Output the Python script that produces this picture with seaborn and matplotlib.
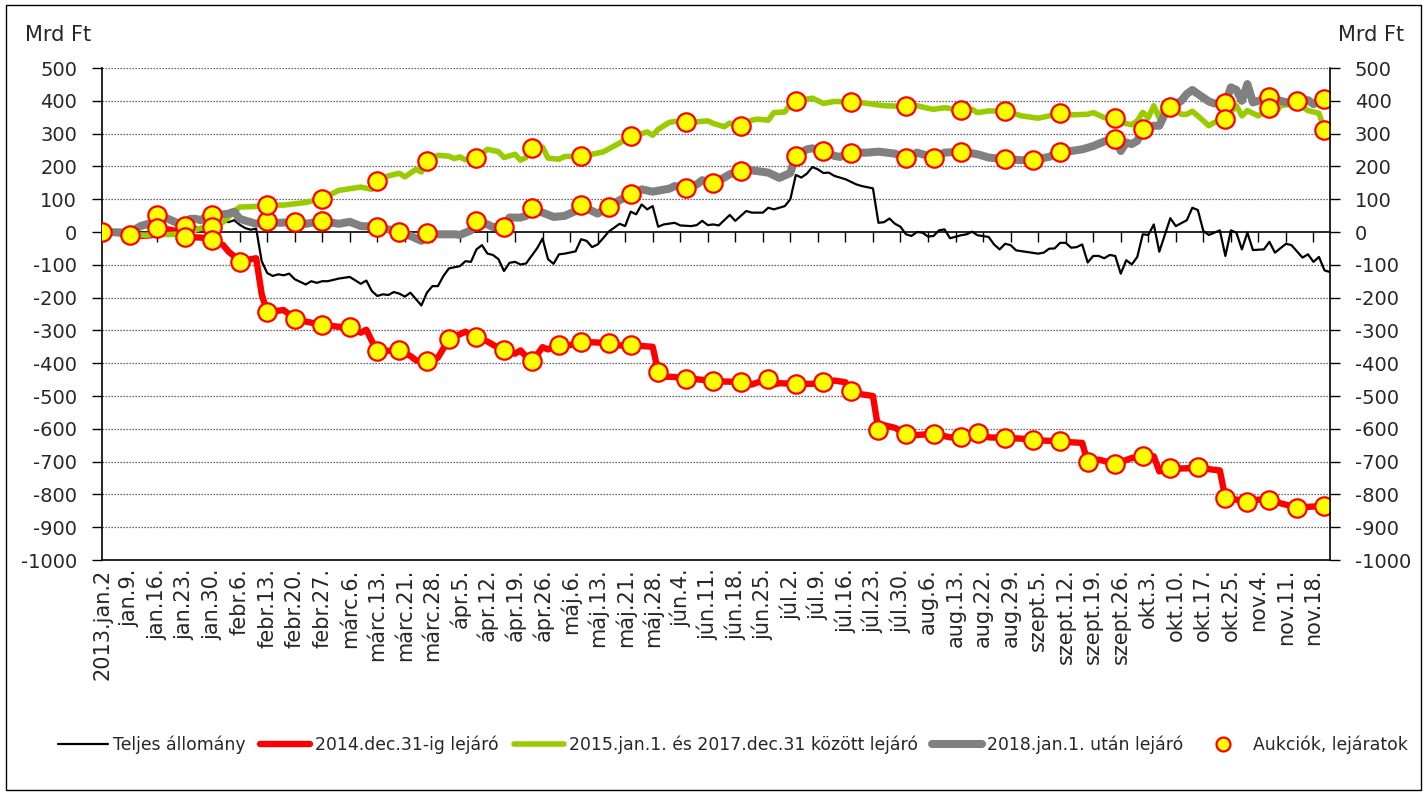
import matplotlib
matplotlib.use("Agg")
import matplotlib.pyplot as plt
from matplotlib.lines import Line2D
from matplotlib.patches import Rectangle
import numpy as np
import pandas as pd
import seaborn as sns

# Trading-day axis labels (one label every 5 trading days)
date_labels = ["2013.jan.2", "jan.9.", "jan.16.", "jan.23.", "jan.30.", "febr.6.", "febr.13.",
               "febr.20.", "febr.27.", "márc.6.", "márc.13.", "márc.21.", "márc.28.", "ápr.5.",
               "ápr.12.", "ápr.19.", "ápr.26.", "máj.6.", "máj.13.", "máj.21.", "máj.28.",
               "jún.4.", "jún.11.", "jún.18.", "jún.25.", "júl.2.", "júl.9.", "júl.16.",
               "júl.23.", "júl.30.", "aug.6.", "aug.13.", "aug.22.", "aug.29.", "szept.5.",
               "szept.12.", "szept.19.", "szept.26.", "okt.3.", "okt.10.", "okt.17.", "okt.25.",
               "nov.4.", "nov.11.", "nov.18."]
label_step = 5
last_day = 223

# Teljes állomány (change since 2 Jan, bn HUF), by trading-day index
total_day = [0, 3, 6, 9, 11, 13, 15, 16, 17, 18, 19, 21, 22, 23, 24, 25, 26, 27, 28, 29, 30, 31, 32,
             33, 34, 35, 37, 38, 39, 40, 41, 43, 45, 47, 48, 49, 50, 51, 52, 53, 54, 55, 56, 58, 59,
             60, 61, 62, 63, 65, 66, 67, 68, 69, 70, 71, 72, 73, 74, 75, 76, 77, 79, 80, 81, 82, 83,
             84, 86, 87, 88, 89, 90, 91, 92, 94, 95, 96, 97, 98, 99, 100, 101, 102, 104, 105, 107,
             108, 109, 110, 111, 112, 114, 115, 117, 118, 120, 121, 122, 124, 125, 126, 127, 128,
             129, 130, 131, 132, 133, 135, 137, 138, 140, 141, 142, 143, 144, 145, 146, 147, 148,
             149, 150, 151, 152, 153, 154, 156, 157, 158, 159, 161, 162, 163, 164, 165, 166, 168,
             170, 171, 172, 173, 174, 175, 176, 177, 178, 179, 180, 181, 182, 183, 184, 185, 186,
             187, 188, 189, 190, 191, 192, 193, 194, 195, 197, 198, 199, 200, 201, 203, 204, 205,
             206, 207, 208, 209, 211, 212, 213, 215, 216, 218, 219, 220, 221, 222, 223]
total_val = [0, -3, -5, -12, 2, 5, 12, 8, 15, 8, 20, 28, 32, 30, 36, 22, 12, 7, 10, -89, -125, -134,
             -129, -132, -127, -144, -160, -150, -155, -150, -150, -142, -137, -158, -148, -180,
             -195, -190, -192, -183, -188, -197, -185, -224, -185, -165, -165, -134, -111, -104,
             -89, -91, -53, -40, -66, -70, -83, -119, -94, -91, -99, -96, -50, -20, -83, -97, -68,
             -66, -59, -22, -27, -46, -38, -19, 1, 25, 18, 62, 54, 84, 69, 79, 16, 23, 28, 20, 18,
             21, 34, 21, 23, 20, 52, 34, 64, 59, 59, 74, 69, 79, 100, 174, 166, 178, 198, 191, 180,
             181, 171, 161, 145, 140, 133, 28, 30, 41, 25, 16, -7, -12, 0, -2, -14, -12, 5, 8, -19,
             -10, -7, 1, -10, -15, -38, -53, -36, -40, -56, -61, -66, -63, -51, -50, -33, -33, -48,
             -46, -38, -93, -73, -73, -80, -70, -73, -127, -86, -99, -76, -7, -9, 23, -60, -9, 42,
             18, 36, 74, 67, 3, -9, 5, -73, 5, -2, -53, -2, -55, -53, -30, -63, -36, -40, -78, -68,
             -91, -76, -117, -122]

# 2014.dec.31-ig lejáró
short_day = [0, 5, 7, 9, 10, 12, 14, 15, 18, 20, 22, 23, 25, 26, 28, 29, 30, 32, 33, 35, 37, 40, 43,
             45, 47, 48, 49, 50, 52, 54, 56, 57, 59, 61, 63, 66, 68, 70, 73, 75, 76, 78, 80, 81, 83,
             85, 87, 90, 92, 94, 96, 100, 101, 102, 104, 106, 108, 111, 113, 116, 118, 121, 122, 123,
             126, 129, 131, 133, 135, 136, 138, 140, 141, 142, 144, 146, 148, 151, 154, 156, 159,
             161, 164, 167, 169, 171, 174, 176, 178, 179, 181, 184, 187, 189, 191, 192, 194, 196,
             199, 203, 204, 206, 208, 210, 212, 214, 217, 220, 222, 223]
short_val = [0, -5, -12, -10, 11, 8, 1, -15, -17, -24, -40, -60, -88, -86, -80, -190, -244, -240,
             -238, -265, -273, -283, -289, -291, -307, -298, -332, -365, -362, -361, -378, -391,
             -399, -383, -327, -304, -322, -334, -363, -371, -361, -398, -351, -358, -345, -345,
             -335, -337, -338, -346, -345, -350, -426, -441, -442, -449, -449, -454, -456, -457,
             -465, -447, -465, -461, -463, -463, -458, -453, -458, -485, -495, -500, -604, -589,
             -597, -615, -619, -615, -626, -624, -612, -626, -628, -630, -635, -636, -638, -641,
             -643, -702, -694, -707, -689, -684, -684, -730, -719, -721, -719, -727, -811, -816,
             -823, -816, -816, -827, -840, -837, -836, -836]

# 2015.jan.1. és 2017.dec.31 között lejáró
mid_day = [0, 5, 8, 10, 12, 15, 18, 19, 22, 24, 25, 28, 30, 33, 35, 37, 40, 43, 45, 47, 49, 50, 52,
           54, 55, 57, 58, 59, 61, 63, 64, 65, 66, 68, 70, 72, 73, 75, 76, 77, 78, 80, 81, 83, 84,
           87, 89, 91, 93, 95, 96, 98, 99, 100, 101, 103, 104, 106, 108, 110, 111, 113, 114, 116,
           118, 119, 121, 122, 124, 125, 126, 129, 131, 133, 136, 139, 142, 146, 148, 150, 151,
           153, 156, 158, 159, 161, 164, 167, 170, 172, 174, 176, 179, 180, 182, 184, 185, 187,
           188, 189, 190, 191, 192, 193, 194, 196, 197, 198, 199, 201, 202, 204, 206, 207, 208,
           210, 212, 213, 214, 216, 217, 219, 221, 222, 223]
mid_val = [0, -7, -10, -5, -8, -5, 12, 15, 30, 62, 76, 78, 82, 82, 86, 90, 102, 127, 132, 137, 130,
           156, 171, 179, 168, 191, 183, 217, 234, 231, 224, 229, 220, 227, 252, 245, 227, 237,
           219, 227, 255, 259, 225, 222, 230, 232, 237, 244, 262, 281, 292, 300, 305, 295, 313,
           334, 337, 333, 336, 339, 331, 321, 332, 322, 341, 344, 341, 364, 366, 390, 400, 408,
           392, 398, 397, 392, 385, 383, 385, 377, 374, 379, 371, 374, 364, 369, 369, 354, 347,
           354, 363, 357, 359, 364, 349, 347, 334, 327, 339, 365, 349, 385, 347, 385, 380, 359,
           359, 368, 354, 324, 334, 346, 385, 354, 370, 354, 377, 359, 385, 390, 395, 370, 362,
           312, 310]

# 2018.jan.1. után lejáró
long_day = [0, 5, 7, 9, 10, 12, 14, 15, 16, 17, 18, 19, 20, 22, 23, 24, 25, 26, 28, 30, 32, 35, 37,
            40, 43, 45, 47, 50, 52, 54, 56, 58, 59, 61, 64, 65, 67, 68, 70, 71, 73, 74, 76, 77, 78,
            80, 82, 84, 86, 87, 89, 90, 92, 94, 96, 98, 100, 103, 104, 106, 108, 109, 111, 113, 114,
            116, 118, 121, 123, 125, 126, 128, 129, 131, 133, 134, 136, 139, 141, 144, 146, 148,
            151, 153, 156, 159, 161, 164, 167, 169, 172, 174, 176, 178, 180, 182, 184, 185, 186,
            187, 188, 189, 191, 192, 193, 194, 196, 197, 198, 199, 201, 202, 204, 205, 206, 207,
            208, 209, 211, 212, 214, 216, 217, 219, 220, 222, 223]
long_val = [0, -2, 18, 28, 50, 40, 25, 18, 40, 40, 36, 48, 51, 54, 56, 62, 40, 35, 25, 34, 28, 30,
            25, 33, 25, 31, 18, 16, 8, 0, -12, -27, -2, -7, -7, -9, 5, 34, 23, 15, 16, 44, 44, 49,
            72, 59, 46, 49, 64, 82, 64, 56, 76, 97, 115, 130, 123, 132, 140, 135, 145, 158, 148,
            166, 176, 186, 188, 181, 165, 180, 232, 252, 255, 247, 232, 229, 242, 242, 245, 239,
            225, 242, 227, 242, 245, 237, 227, 222, 219, 219, 229, 245, 247, 252, 262, 276, 285,
            247, 273, 268, 278, 314, 324, 324, 359, 382, 400, 421, 433, 421, 398, 392, 393, 441,
            433, 400, 451, 395, 405, 412, 400, 392, 398, 402, 390, 407, 405]

# Aukciók, lejáratok (auction / maturity days and the position after them)
auction_day = [0, 5, 10, 10, 15, 15, 20, 20, 20, 25, 30, 30, 30, 35, 35, 40, 40, 40, 45, 50, 50,
               50, 54, 54, 59, 59, 59, 63, 68, 68, 68, 73, 73, 78, 78, 78, 83, 87, 87, 87, 92, 92,
               96, 96, 96, 101, 106, 106, 106, 111, 111, 116, 116, 116, 121, 126, 126, 126, 131,
               131, 136, 136, 136, 141, 146, 146, 146, 151, 151, 156, 156, 156, 159, 164, 164, 164,
               169, 169, 174, 174, 174, 179, 184, 184, 184, 189, 189, 194, 194, 199, 204, 204, 204,
               208, 212, 212, 212, 217, 217, 222, 222, 222]
auction_val = [0, -8, 51, 11, 18, -15, 51, 16, -24, -91, -244, 34, 82, -264, 30, -284, 33, 102,
               -289, -363, 16, 156, -361, 0, -394, -2, 217, -326, -320, 34, 227, -361, 16, -392,
               72, 255, -344, -336, 82, 232, -339, 76, -344, 115, 292, -426, -449, 135, 334, -454,
               148, -457, 186, 322, -447, -463, 232, 400, -458, 247, -485, 242, 397, -604, -615,
               225, 383, -615, 227, -624, 245, 371, -612, -628, 222, 369, -635, 219, -638, 245, 363,
               -702, -707, 285, 349, -684, 314, -720, 381, -717, -811, 393, 346, -823, -816, 412,
               377, -840, 398, -836, 407, 312]

series_names = ["Teljes állomány", "2014.dec.31-ig lejáró",
                "2015.jan.1. és 2017.dec.31 között lejáró", "2018.jan.1. után lejáró",
                "Aukciók, lejáratok"]
y_min, y_max, y_step = -1000, 500, 100

sns.set_theme(style="white")
plt.rcParams["font.family"] = ["DejaVu Sans"]
plt.rcParams["axes.unicode_minus"] = False

W, H = 1427, 795
fig = plt.figure(figsize=(W / 100, H / 100), dpi=100)
fig.patch.set_facecolor("white")
left_px, right_px, top_px, bottom_px = 102, 1330, 68, 560
ax = fig.add_axes([left_px / W, 1 - bottom_px / H, (right_px - left_px) / W, (bottom_px - top_px) / H])
ax.set_facecolor("white")

styles = [
    (total_day, total_val, "#000000", 1.6),
    (short_day, short_val, "#FF0000", 4.6),
    (mid_day, mid_val, "#99CC00", 4.0),
    (long_day, long_val, "#808080", 5.8),
]
handles = []
for (d, v, c, lw), name in zip(styles, series_names[:4]):
    df = pd.DataFrame({"nap": d, "érték": v})
    sns.lineplot(data=df, x="nap", y="érték", ax=ax, color=c, linewidth=lw,
                 estimator=None, legend=False, solid_joinstyle="round", solid_capstyle="round")
    handles.append(Line2D([], [], color=c, linewidth=lw))

auc = pd.DataFrame({"nap": auction_day, "érték": auction_val})
sns.scatterplot(data=auc, x="nap", y="érték", ax=ax, s=175, color="#FFFF00",
                edgecolor="#FF0000", linewidth=1.6, zorder=6, legend=False)
handles.append(Line2D([], [], linestyle="none", marker="o", markersize=10,
                      markerfacecolor="#FFFF00", markeredgecolor="#FF0000", markeredgewidth=1.6))

# Axes, grid, ticks
yticks = np.arange(y_min, y_max + 1, y_step)
ax.set_xlim(0, last_day)
ax.set_ylim(y_min, y_max)
ax.set_yticks(yticks)
ax.set_yticklabels([str(t) for t in yticks])
ax.set_xlabel("")
ax.set_ylabel("")
ax.grid(False)
for t in yticks[1:]:
    if t != 0:
        ax.axhline(t, color="#3a3a3a", linewidth=0.9, linestyle=(0, (1, 1.4)), zorder=0)

tick_pos = np.arange(len(date_labels)) * label_step
ax.set_xticks(tick_pos)
ax.set_xticklabels(date_labels, rotation=90, ha="center", va="top", fontsize=15)
ax.tick_params(axis="x", length=0, pad=6)
ax.tick_params(axis="y", direction="out", length=7, width=1, color="black", labelsize=14, pad=11,
               left=True)
for side in ["top", "right"]:
    ax.spines[side].set_visible(False)
for side in ["left", "bottom"]:
    ax.spines[side].set_visible(True)
    ax.spines[side].set_color("black")
    ax.spines[side].set_linewidth(1.2)

# Category axis drawn through zero
zero_frac = (0 - y_min) / (y_max - y_min)
zax = ax.secondary_xaxis(zero_frac)
zax.set_xticks(tick_pos)
zax.xaxis.set_ticks_position("bottom")
zax.tick_params(axis="x", direction="out", length=7, width=1, color="black",
                labelbottom=False, labeltop=False, bottom=True, top=False)
for side in zax.spines:
    zax.spines[side].set_visible(False)
zax.spines["bottom"].set_visible(True)
zax.spines["bottom"].set_color("black")
zax.spines["bottom"].set_linewidth(1.2)

# Mirrored value axis on the right
ax2 = ax.twinx()
ax2.set_ylim(y_min, y_max)
ax2.set_yticks(yticks)
ax2.set_yticklabels([str(t) for t in yticks])
ax2.grid(False)
ax2.tick_params(axis="y", direction="out", length=7, width=1, color="black", labelsize=14, pad=11,
                right=True)
for side in ["top", "left", "bottom"]:
    ax2.spines[side].set_visible(False)
ax2.spines["right"].set_visible(True)
ax2.spines["right"].set_color("black")
ax2.spines["right"].set_linewidth(1.2)

fig.text(58 / W, 1 - 35 / H, "Mrd Ft", ha="center", va="center", fontsize=15)
fig.text(1371 / W, 1 - 35 / H, "Mrd Ft", ha="center", va="center", fontsize=15)

fig.legend(handles, series_names, loc="center", bbox_to_anchor=(0.5137, 1 - 745 / H), ncol=5,
           frameon=False, fontsize=12.4, handlelength=2.9, handletextpad=0.3, columnspacing=0.85)

fig.patches.append(Rectangle((6 / W, 5 / H), (1421 - 6) / W, (790 - 5) / H, transform=fig.transFigure,
                             fill=False, edgecolor="black", linewidth=1.0))

fig.savefig("out.png", dpi=100)
